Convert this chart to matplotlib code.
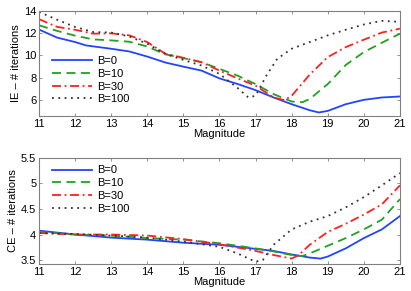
import numpy as np
import matplotlib
matplotlib.use("Agg")
import matplotlib.pyplot as plt

plt.rcParams["font.family"] = ["Liberation Sans", "DejaVu Sans"]

# ── IE panel (top) ────────────────────────────────────────────────────────────
ie_x0 = [11, 11.5, 12, 12.3, 13, 13.5, 14, 14.5, 15, 15.5, 16, 16.5, 17, 17.5,
         18, 18.5, 18.75, 19, 19.5, 20, 20.5, 21]
ie_b0 = [12.32, 11.6, 11.2, 10.9, 10.6, 10.36, 9.9, 9.37, 9.0, 8.65, 7.95, 7.45,
         6.9, 6.24, 5.64, 5.1, 4.9, 5.04, 5.64, 6.03, 6.24, 6.33]

ie_x10 = [11, 11.5, 12, 12.5, 13, 13.5, 14, 14.5, 15, 15.5, 16, 16.5, 17, 17.5,
          18, 18.3, 18.5, 19, 19.5, 20, 20.5, 21]
ie_b10 = [12.7, 12.2, 11.77, 11.44, 11.35, 11.23, 10.8, 10.1, 9.76, 9.4, 8.8,
          8.2, 7.44, 6.54, 5.88, 5.82, 6.1, 7.44, 9.15, 10.3, 11.14, 11.95]

ie_x30 = [11, 11.5, 12, 12.5, 13, 13.5, 14, 14.5, 15, 15.5, 16, 16.5, 17, 17.5,
          17.8, 18, 18.5, 19, 19.5, 20, 20.5, 21]
ie_b30 = [13.25, 12.56, 12.3, 11.95, 11.98, 11.8, 11.2, 10.15, 9.79, 9.4, 8.65,
          7.95, 7.3, 6.24, 6.0, 6.39, 8.29, 9.85, 10.75, 11.41, 12.05, 12.4]

ie_x100 = [11, 11.5, 12, 12.5, 13, 13.5, 14, 14.5, 15, 15.5, 16, 16.5, 16.8, 17,
           17.3, 17.6, 18, 18.5, 19, 19.5, 20, 20.5, 21]
ie_b100 = [13.9, 13.2, 12.55, 12.1, 12.05, 11.7, 11.05, 10.15, 9.6, 9.1, 8.35,
           7.1, 6.24, 6.39, 8.2, 9.7, 10.6, 11.2, 11.8, 12.3, 12.77, 13.1, 13.0]

# ── CE panel (bottom) ─────────────────────────────────────────────────────────
ce_x0 = [11, 12, 13, 14, 15, 16, 17, 17.5, 18, 18.5, 18.8, 19, 19.5, 20, 20.5, 21]
ce_b0 = [4.076, 4.0, 3.94, 3.9, 3.84, 3.8, 3.72, 3.68, 3.61, 3.55, 3.53, 3.57,
         3.73, 3.93, 4.1, 4.36]

ce_x10 = [11, 12, 13, 14, 15, 16, 17, 17.5, 18, 18.3, 18.5, 19, 19.5, 20, 20.5, 21]
ce_b10 = [4.05, 4.0, 3.98, 3.93, 3.9, 3.83, 3.73, 3.67, 3.6, 3.58, 3.63, 3.78,
          3.93, 4.1, 4.29, 4.69]

ce_x30 = [11, 12, 13, 14, 15, 16, 17, 17.5, 18, 18.2, 18.5, 19, 19.5, 20, 20.5, 21]
ce_b30 = [4.03, 4.0, 4.0, 3.98, 3.91, 3.81, 3.68, 3.6, 3.53, 3.6, 3.8, 4.05,
          4.21, 4.39, 4.59, 4.96]

ce_x100 = [11, 12, 13, 14, 15, 16, 16.5, 17, 17.2, 17.5, 18, 18.5, 19, 19.5, 20,
           20.5, 21]
ce_b100 = [4.03, 4.01, 3.98, 3.94, 3.86, 3.76, 3.63, 3.47, 3.5, 3.8, 4.1, 4.25,
           4.36, 4.53, 4.73, 4.96, 5.2]

labels = ["B=0", "B=10", "B=30", "B=100"]
styles = [
    dict(color="#2244ff", linestyle="-"),
    dict(color="#22a022", linestyle=(0, (5, 3))),
    dict(color="#ff2020", linestyle=(0, (5, 2, 1, 2))),
    dict(color="#333333", linestyle=(0, (1, 2.5))),
]

fig = plt.figure(figsize=(4.11, 2.91), dpi=100)
ax1 = fig.add_axes([0.095, 0.602, 0.878, 0.361])
ax2 = fig.add_axes([0.095, 0.092, 0.878, 0.366])


def style_axes(ax, ylim, yticks, yticklabels, ylabel, legend_loc, anchor):
    ax.set_xlim(11, 21)
    ax.set_ylim(*ylim)
    ax.set_xticks(range(11, 22))
    ax.set_yticks(yticks)
    ax.set_yticklabels(yticklabels)
    ax.tick_params(direction="in", top=True, right=True, length=2.5,
                   width=0.6, color="#808080", labelsize=8, pad=2)
    for spine in ax.spines.values():
        spine.set_edgecolor("#808080")
        spine.set_linewidth(0.8)
    ax.set_xlabel("Magnitude", fontsize=8, labelpad=0)
    ax.set_ylabel(ylabel, fontsize=8, labelpad=2)
    ax.legend(loc=legend_loc, bbox_to_anchor=anchor,
              frameon=False, fontsize=8, handlelength=3.6, handletextpad=0.4,
              labelspacing=0.25, borderaxespad=0.3)


ie_series = [(ie_x0, ie_b0), (ie_x10, ie_b10), (ie_x30, ie_b30), (ie_x100, ie_b100)]
ce_series = [(ce_x0, ce_b0), (ce_x10, ce_b10), (ce_x30, ce_b30), (ce_x100, ce_b100)]

for (xs, ys), lab, st in zip(ie_series, labels, styles):
    ax1.plot(xs, ys, lw=1.3, label=lab, **st)
for (xs, ys), lab, st in zip(ce_series, labels, styles):
    ax2.plot(xs, ys, lw=1.3, label=lab, **st)

style_axes(ax1, (4.6, 14), [6, 8, 10, 12, 14], ["6", "8", "10", "12", "14"],
           "IE \u2013 # iterations", "lower left", (0.015, 0.035))
style_axes(ax2, (3.42, 5.5), [3.5, 4, 4.5, 5, 5.5], ["3.5", "4", "4.5", "5", "5.5"],
           "CE \u2013 # iterations", "upper left", (0.015, 1.0))

fig.savefig("out.png", dpi=100)
